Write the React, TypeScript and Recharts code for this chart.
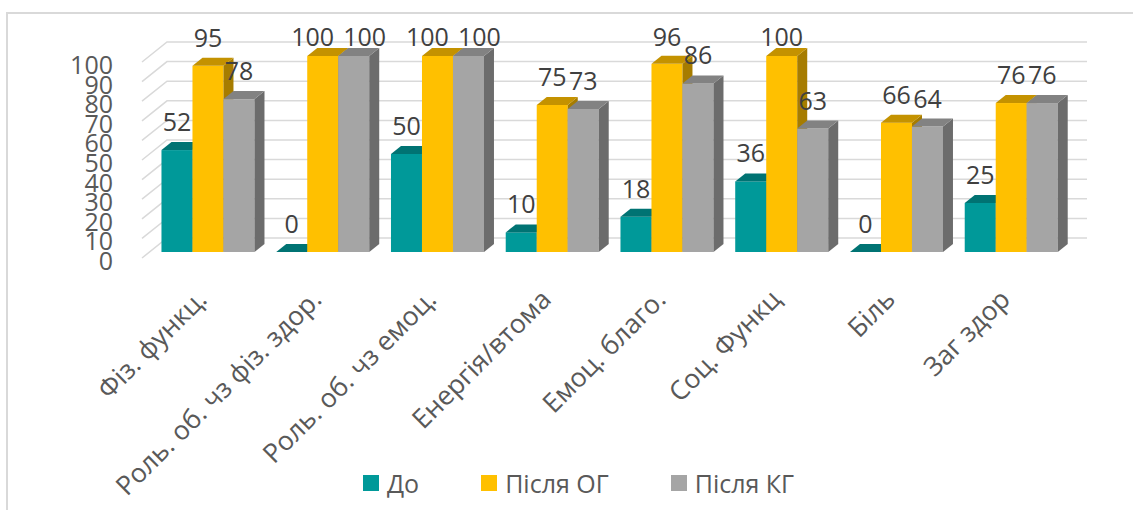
import React from "react";
import { BarChart, Bar, XAxis, YAxis, CartesianGrid, Legend, LabelList } from "recharts";

const categories = [
  "Фіз. функц.",
  "Роль. об. чз фіз. здор.",
  "Роль. об. чз емоц.",
  "Енергія/втома",
  "Емоц. благо.",
  "Соц. Функц",
  "Біль",
  "Заг здор",
];
const before = [52, 0, 50, 10, 18, 36, 0, 25];
const afterOG = [95, 100, 100, 75, 96, 100, 66, 76];
const afterKG = [78, 100, 100, 73, 86, 63, 64, 76];
const yTicks = [0, 10, 20, 30, 40, 50, 60, 70, 80, 90, 100];

const data = categories.map((name, i) => ({
  name,
  before: before[i],
  afterOG: afterOG[i],
  afterKG: afterKG[i],
}));

const FONT = "'Open Sans', sans-serif";
const TEXT = "#595959";
const DX = 10;
const DY = 8;
const LABEL_CEIL = 46;

const series = [
  { key: "before", name: "До", front: "#009999", top: "#007373", side: "#006767" },
  { key: "afterOG", name: "Після ОГ", front: "#FFC000", top: "#C49200", side: "#A67C00" },
  { key: "afterKG", name: "Після КГ", front: "#A5A5A5", top: "#828282", side: "#6C6C6C" },
];
const seriesOrder = series.map((s) => s.name);

// 3D column: front face, top face and right side face
const makeBox = (s: (typeof series)[number]) => (props: any) => {
  const { x, y, width, height } = props;
  const h = Math.max(height, 0);
  const top = `${x},${y} ${x + width},${y} ${x + width + DX},${y - DY} ${x + DX},${y - DY}`;
  const side = `${x + width},${y} ${x + width + DX},${y - DY} ${x + width + DX},${y + h - DY} ${x + width},${y + h}`;
  return (
    <g>
      <rect x={x} y={y} width={width} height={h} fill={s.front} />
      <polygon points={side} fill={s.side} />
      <polygon points={top} fill={s.top} />
    </g>
  );
};

// back wall gridline with its diagonal along the left side wall
const gridLine = (props: any) => {
  const { x1, x2, y1, index } = props;
  return (
    <polyline
      key={`grid-${index}`}
      points={`${x1 - 8},${y1 + 6} ${x1 + 17},${y1 - 14} ${x2 + 19},${y1 - 14}`}
      fill="none"
      stroke="#D9D9D9"
      strokeWidth={1.5}
    />
  );
};

const YTick = (props: any) => {
  const { x, y, payload } = props;
  return (
    <text x={x} y={y + 8} textAnchor="end" dominantBaseline="central" fontSize={25} fontFamily={FONT} fill={TEXT}>
      {payload.value}
    </text>
  );
};

const XTick = (props: any) => {
  const { x, y, payload } = props;
  const px = x + 1;
  return (
    <text
      x={px}
      y={y}
      textAnchor="end"
      fontSize={26.5}
      fontFamily={FONT}
      fill={TEXT}
      transform={`rotate(-45, ${px}, ${y})`}
    >
      {payload.value}
    </text>
  );
};

// labels pinned under the top of the plot spread apart when both hit the ceiling
const labelNudge = (key: string, i: number) => {
  if (afterOG[i] === 100 && afterKG[i] === 100) {
    if (key === "afterOG") return -10;
    if (key === "afterKG") return 11;
  }
  return 0;
};

const makeLabel = (key: string) => (props: any) => {
  const { x, y, width, value, index } = props;
  return (
    <text
      x={x + width / 2 + labelNudge(key, index)}
      y={Math.max(y - 19, LABEL_CEIL)}
      textAnchor="middle"
      fontSize={25}
      fontFamily={FONT}
      fill="#404040"
    >
      {value}
    </text>
  );
};

const LegendContent = (props: any) => {
  const items = [...(props.payload || [])].sort(
    (a: any, b: any) => seriesOrder.indexOf(a.value) - seriesOrder.indexOf(b.value)
  );
  return (
    <div style={{ display: "flex", height: 40, alignItems: "center", paddingLeft: 343, fontFamily: FONT }}>
      {items.map((it: any) => (
        <div key={it.value} style={{ display: "flex", alignItems: "center", marginRight: 62 }}>
          <div style={{ width: 16, height: 16, background: it.color, marginRight: 8 }} />
          <span style={{ fontSize: 25, color: TEXT, lineHeight: "30px" }}>{it.value}</span>
        </div>
      ))}
    </div>
  );
};

export default function App() {
  return (
    <div style={{ position: "absolute", left: 0, top: 0, width: 1133, height: 510, background: "#fff" }}>
      <div
        style={{
          position: "absolute",
          left: 6,
          top: 12,
          right: 0,
          bottom: 0,
          borderLeft: "2px solid #D9D9D9",
          borderTop: "2px solid #D9D9D9",
        }}
      />
      <div style={{ position: "absolute", left: 0, top: 0 }}>
        <BarChart
          width={1133}
          height={510}
          data={data}
          margin={{ top: 56, right: 65, bottom: 7, left: 20 }}
          barCategoryGap="10%"
          barGap={0}
        >
          <CartesianGrid vertical={false} horizontal={gridLine} />
          <XAxis
            dataKey="name"
            interval={0}
            axisLine={false}
            tickLine={false}
            tickSize={0}
            tickMargin={49}
            height={211}
            tick={<XTick />}
          />
          <YAxis
            domain={[0, 100]}
            ticks={yTicks}
            interval={0}
            axisLine={false}
            tickLine={false}
            tickSize={0}
            tickMargin={37}
            width={130}
            tick={<YTick />}
          />
          <Legend verticalAlign="bottom" content={<LegendContent />} />
          {series.map((s) => (
            <Bar key={s.key} dataKey={s.key} name={s.name} fill={s.front} shape={makeBox(s)} isAnimationActive={false}>
              <LabelList dataKey={s.key} content={makeLabel(s.key)} />
            </Bar>
          ))}
        </BarChart>
      </div>
    </div>
  );
}
